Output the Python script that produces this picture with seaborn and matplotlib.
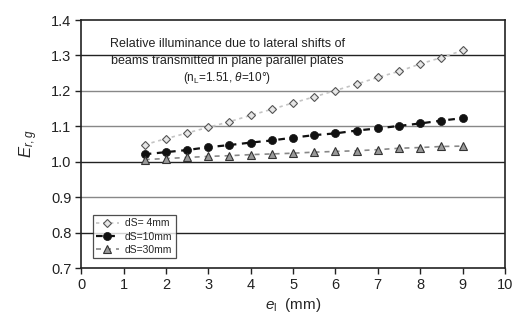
import numpy as np
import pandas as pd
import matplotlib
matplotlib.use("Agg")
import matplotlib.pyplot as plt
import seaborn as sns

e_l = [1.5, 2.0, 2.5, 3.0, 3.5, 4.0, 4.5, 5.0, 5.5, 6.0, 6.5, 7.0, 7.5, 8.0, 8.5, 9.0]
er_4mm = [1.048, 1.065, 1.081, 1.097, 1.113, 1.131, 1.148, 1.166,
          1.183, 1.201, 1.219, 1.238, 1.255, 1.276, 1.294, 1.314]
er_10mm = [1.021, 1.027, 1.033, 1.041, 1.047, 1.054, 1.060, 1.068,
           1.075, 1.080, 1.088, 1.094, 1.101, 1.108, 1.116, 1.123]
er_30mm = [1.006, 1.009, 1.012, 1.015, 1.017, 1.020, 1.022, 1.024,
           1.027, 1.029, 1.031, 1.034, 1.038, 1.040, 1.043, 1.044]
series_labels = ["dS= 4mm", "dS=10mm", "dS=30mm"]

df = pd.DataFrame({
    "e": e_l * 3,
    "E": er_4mm + er_10mm + er_30mm,
    "dS": [series_labels[0]] * len(e_l) + [series_labels[1]] * len(e_l) + [series_labels[2]] * len(e_l),
})

sns.set_theme(style="white")
plt.rcParams["font.family"] = ["Liberation Sans", "DejaVu Sans"]
plt.rcParams["mathtext.fontset"] = "custom"
plt.rcParams["mathtext.it"] = "Liberation Sans:italic"
plt.rcParams["mathtext.rm"] = "Liberation Sans"

fig = plt.figure(figsize=(5.2, 3.2), dpi=100)
ax = fig.add_axes([0.156, 0.1625, 0.815, 0.775])

# horizontal gridlines, alternating dark and mid gray
grid_colors = {1.3: "#222222", 1.2: "#888888", 1.1: "#888888", 1.0: "#222222", 0.9: "#888888", 0.8: "#222222"}
for yv, c in grid_colors.items():
    ax.axhline(yv, color=c, lw=1.0, zorder=0)

styles = {
    series_labels[0]: dict(color="#c4c4c4", marker="D", ms=3.8, mfc="#e6e6e6", mec="#555555", mew=0.8, dashes=(2, 2.2), lw=1.2),
    series_labels[1]: dict(color="#111111", marker="o", ms=5.8, mfc="#111111", mec="#111111", mew=0.5, dashes=(3, 2.5), lw=1.6),
    series_labels[2]: dict(color="#888888", marker="^", ms=5.5, mfc="#999999", mec="#333333", mew=0.8, dashes=(3, 3), lw=1.2),
}
for lab in series_labels:
    st = styles[lab]
    sns.lineplot(data=df[df["dS"] == lab], x="e", y="E", ax=ax, label=lab,
                 color=st["color"], marker=st["marker"], markersize=st["ms"],
                 markerfacecolor=st["mfc"], markeredgecolor=st["mec"],
                 markeredgewidth=st["mew"], dashes=st["dashes"], lw=st["lw"], zorder=3)

ax.set_xlim(0, 10)
ax.set_ylim(0.7, 1.4)
ax.set_xticks(np.arange(0, 11, 1))
ax.set_yticks(np.round(np.arange(0.7, 1.41, 0.1), 1))
ax.set_yticklabels([f"{v:.1f}" for v in np.arange(0.7, 1.41, 0.1)])
ax.tick_params(axis="both", direction="out", length=4, width=1.0, labelsize=10.5, colors="#222222", pad=3)
ax.tick_params(axis="both", bottom=True, left=True)
for s in ax.spines.values():
    s.set_color("#222222")
    s.set_linewidth(1.2)

ax.set_xlabel(r"$e_\mathrm{l}$  (mm)", fontsize=11, labelpad=3)
ax.set_ylabel(r"$E_{r,g}$", fontsize=12, labelpad=8)

ax.text(3.45, 1.332, "Relative illuminance due to lateral shifts of", ha="center", va="center", fontsize=9, color="#222222")
ax.text(3.45, 1.284, "beams transmitted in plane parallel plates", ha="center", va="center", fontsize=9, color="#222222")
ax.text(3.45, 1.236, r"(n$_\mathrm{L}$=1.51, $\theta$=10°)", ha="center", va="center", fontsize=8.5, color="#222222")

leg = ax.legend(loc="lower left", bbox_to_anchor=(0.015, 0.02), fontsize=7.5, frameon=True,
                fancybox=False, edgecolor="#222222", handlelength=2.2, borderpad=0.3,
                labelspacing=0.3, handletextpad=0.6)
leg.get_frame().set_linewidth(0.9)
leg.get_frame().set_facecolor("white")

fig.savefig("out.png", dpi=100)
